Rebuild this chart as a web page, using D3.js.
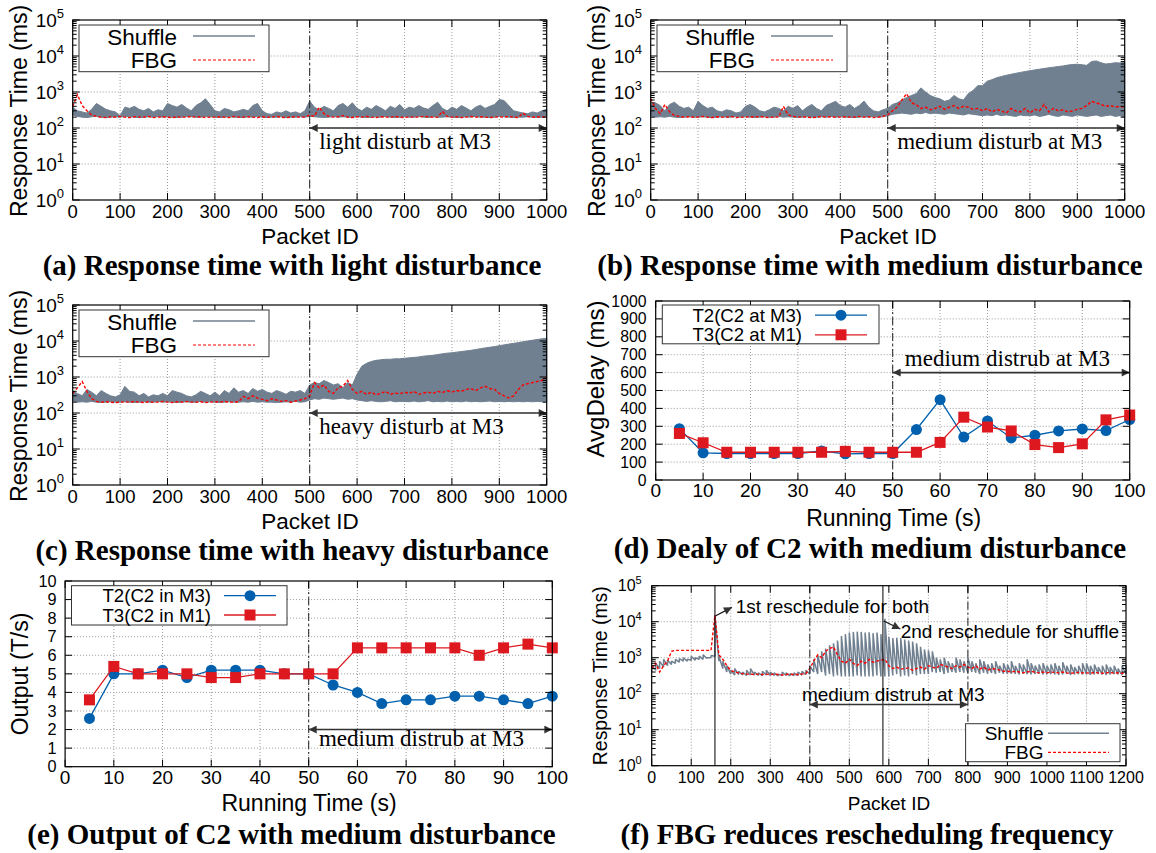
<!DOCTYPE html>
<html><head><meta charset="utf-8">
<script src="https://cdn.jsdelivr.net/npm/d3@7"></script>
<style>body{margin:0;background:#fff}svg{display:block}</style>
</head><body>
<svg id="c" width="1156" height="853"></svg>
<script>
// ---------------- DATA ----------------
const pkt1000 = d3.range(0, 1001, 10);
const pkt1200 = d3.range(0, 1201, 10);
const pktTicks = [0,100,200,300,400,500,600,700,800,900,1000];
const pktTicksF = [0,100,200,300,400,500,600,700,800,900,1000,1100,1200];
const logExps = [0,1,2,3,4,5];
const timeTicks = [0,10,20,30,40,50,60,70,80,90,100];
const delayTicks = [0,100,200,300,400,500,600,700,800,900,1000];
const outputTicks = [0,1,2,3,4,5,6,7,8,9,10];
const runTime = [5,10,15,20,25,30,35,40,45,50,55,60,65,70,75,80,85,90,95,100];

// (a) light disturbance
const aShufHi = [380,300,280,260,330,480,400,330,300,280,
 220,380,350,400,330,300,350,280,320,300,
 480,420,380,450,360,300,420,500,650,450,
 300,280,350,320,280,300,330,300,420,480,
 300,250,240,280,260,300,260,280,250,300,
 560,380,320,400,350,300,420,480,380,500,
 350,300,380,330,420,360,300,400,350,450,
 320,380,350,420,360,330,420,520,350,300,
 380,330,420,360,300,380,430,350,400,450,
 620,580,420,300,280,260,250,280,260,300,
 330];
const aShufLo = [230,210,200,195,205,210,200,195,200,205,
 200,210,205,200,195,200,205,200,210,200,
 205,200,195,200,210,205,200,200,210,205,
 200,195,200,205,200,200,195,205,200,210,
 200,195,200,200,205,195,200,200,205,200,
 210,205,200,195,200,210,200,205,200,200,
 205,200,195,200,205,200,210,200,195,200,
 205,200,200,210,200,195,205,200,200,205,
 200,195,200,205,200,210,200,200,195,200,
 210,205,200,195,200,200,205,200,195,200,
 205];
const aFbg = [400,850,420,300,230,210,200,195,205,200,
 210,200,195,205,200,200,210,195,200,205,
 200,195,205,200,200,210,200,205,195,200,
 200,205,200,195,210,200,200,205,200,195,
 205,200,200,210,200,195,200,205,200,200,
 230,210,380,250,210,200,205,220,200,195,
 205,200,210,200,195,205,200,200,210,200,
 195,205,200,200,210,205,200,200,290,210,
 200,205,195,200,210,200,205,200,195,200,
 205,200,210,200,195,260,210,200,205,200,
 210];

// (b) medium disturbance
const bShufHi = [450,500,420,300,450,520,400,350,380,300,
 550,420,350,380,300,280,320,300,260,280,
 400,450,380,300,280,320,380,350,300,400,
 350,420,300,380,450,350,300,420,480,550,
 420,380,450,350,420,560,380,300,280,320,
 350,450,500,600,700,800,900,1300,1000,800,
 700,650,550,600,800,650,600,900,1100,1500,
 1500,2000,2200,2500,2700,2900,3100,3300,3500,3700,
 3900,4100,4300,4500,4700,4900,5100,5300,5600,5800,
 5900,5700,5500,7000,7300,6500,6000,6200,6500,6400,
 6600];
const bShufLo = [220,200,205,200,210,200,195,200,205,200,
 200,205,200,195,200,205,200,200,210,200,
 205,200,195,200,205,200,200,210,200,205,
 200,195,200,205,200,200,205,200,210,200,
 205,200,200,195,200,205,200,210,200,205,
 220,240,250,260,250,240,260,250,270,250,
 260,250,240,260,250,240,230,250,240,230,
 220,230,220,240,220,230,220,210,230,220,
 220,230,210,220,240,220,210,230,220,210,
 230,220,210,220,230,210,220,230,210,220,
 200];
const bFbg = [650,350,250,450,280,220,210,200,205,200,
 200,210,200,195,205,200,200,210,195,200,
 200,205,200,210,200,195,205,200,400,230,
 210,200,205,200,195,200,210,200,205,200,
 200,205,200,200,210,200,205,195,200,210,
 230,300,380,600,900,500,450,350,380,320,
 350,400,330,380,420,350,400,380,330,350,
 300,350,280,330,300,260,350,300,280,350,
 260,330,300,450,280,350,300,320,280,300,
 330,350,420,550,500,450,400,420,380,400,
 380];

// (c) heavy disturbance
const cShufHi = [400,350,300,450,380,300,420,350,300,280,
 320,550,400,380,300,350,280,320,300,350,
 300,420,380,350,300,280,320,400,350,300,
 380,300,420,350,500,380,420,350,480,400,
 450,380,350,420,380,330,400,380,420,350,
 600,700,650,800,700,600,650,500,700,600,
 1200,2000,2400,2700,2900,3000,3100,3100,3200,3200,
 3300,3400,3500,3600,3800,3900,4000,4200,4400,4600,
 4700,4900,5100,5300,5500,5800,6100,6400,6700,7000,
 7400,7800,8200,8600,9000,9500,10000,10500,11000,11500,
 11900];
const cShufLo = [220,200,205,200,210,200,195,200,205,200,
 200,205,200,195,200,205,200,200,210,200,
 205,200,195,200,205,200,200,210,200,205,
 200,195,200,205,200,200,205,200,210,200,
 205,200,200,195,200,205,200,210,200,205,
 230,250,240,260,250,240,250,260,240,250,
 230,220,210,220,210,205,210,220,205,210,
 210,205,215,205,210,220,205,210,205,215,
 205,210,205,215,205,210,205,210,215,205,
 210,205,210,205,210,205,210,205,210,205,
 205];
const cFbg = [350,500,750,400,250,210,200,205,200,195,
 200,205,200,210,200,195,205,200,200,210,
 200,195,205,200,210,200,200,205,195,200,
 205,200,210,200,200,205,290,250,300,260,
 240,220,250,230,210,220,200,215,230,250,
 300,700,500,600,400,350,500,550,800,450,
 350,400,330,380,320,350,400,330,360,340,
 380,350,400,330,360,380,350,400,370,420,
 380,420,400,450,480,420,500,550,480,450,
 350,300,260,300,450,600,650,700,750,800,
 1000];

// (d) average delay
const dT2 = [287,152,148,148,148,148,162,146,148,148,282,449,240,330,235,250,274,285,276,338];
const dT3 = [260,208,155,155,155,155,155,160,155,155,155,210,351,296,274,198,181,202,336,363];

// (e) output
const eT2 = [2.6,5.0,5.0,5.2,4.8,5.2,5.2,5.2,5.0,5.0,4.4,4.0,3.4,3.6,3.6,3.8,3.8,3.6,3.4,3.8];
const eT3 = [3.6,5.4,5.0,5.0,5.0,4.8,4.8,5.0,5.0,5.0,5.0,6.4,6.4,6.4,6.4,6.4,6.0,6.4,6.6,6.4];

// (f) rescheduling
const fShufHi = [600,700,800,900,850,800,900,950,1000,900,
 1100,1000,1100,1200,1000,1150,15000,1100,800,600,
 450,500,420,400,450,500,400,380,420,450,
 400,380,350,400,380,360,380,400,420,450,
 600,900,1200,1500,1800,2200,2500,3000,4000,4500,
 5000,5200,5300,5200,5000,5100,4800,5000,4500,12000,
 3800,3500,3600,3500,3200,3000,2800,2500,2000,1700,
 1600,1500,1000,900,1000,800,700,1000,900,800,
 1000,800,700,900,800,650,700,800,600,700,
 650,800,600,700,650,900,700,600,650,700,
 600,650,700,600,750,600,650,550,600,700,
 700,600,650,550,600,650,550,600,500,600,
 650];
const fShufLo = [400,450,500,550,600,650,700,750,800,800,
 850,850,900,900,950,1000,1100,800,500,400,
 350,330,340,330,320,330,330,320,320,330,
 320,320,310,320,320,310,320,320,330,340,
 350,400,350,400,320,350,300,320,300,300,
 300,300,320,300,300,300,300,320,300,300,
 300,320,350,300,320,300,350,320,350,350,
 350,400,380,400,350,380,400,380,400,380,
 380,400,380,350,380,360,380,350,380,360,
 350,360,350,340,360,350,340,350,360,340,
 340,350,340,330,340,350,330,340,350,340,
 340,330,340,350,340,330,340,350,340,330,
 350];
const fFbg = [500,700,400,600,800,1500,1600,1600,1600,1600,
 1600,1600,1600,1600,1600,1600,15000,1200,900,600,
 450,400,380,360,350,350,340,350,340,350,
 340,350,340,330,340,350,340,340,350,360,
 500,800,1200,1000,1500,1800,2000,1200,800,700,
 900,700,600,800,700,900,750,800,850,900,
 600,500,550,480,500,520,450,500,550,480,
 600,550,500,650,600,550,500,600,550,650,
 550,500,600,480,550,450,500,480,450,420,
 420,400,420,400,380,400,420,390,380,400,
 380,400,390,380,400,380,370,380,390,380,
 380,370,390,380,370,380,390,370,380,370,
 380];
const fReschedule = [160, 585];
const fDisturb = [400, 800];

// ---------------- DRAWING ----------------
const svg = d3.select('#c');
const SANS = "'Liberation Sans', Arial, Helvetica, sans-serif";
const SERIF = "'Liberation Serif', 'Times New Roman', serif";
const C_SHUF = '#708090', C_FBG = '#ff0000', C_T2 = '#0060ad', C_T3 = '#dd181f';

const defs = svg.append('defs');
defs.append('marker').attr('id','ah').attr('viewBox','0 0 10 10').attr('refX',10).attr('refY',5)
  .attr('markerWidth',10).attr('markerHeight',8).attr('markerUnits','userSpaceOnUse')
  .attr('orient','auto-start-reverse')
  .append('path').attr('d','M0,0 L10,5 L0,10 z').attr('fill','#333');

const minorLog = [];
[0,1,2,3,4].forEach(e => [2,3,4,5,6,7,8,9].forEach(m => minorLog.push(m*Math.pow(10,e))));

function grid(g, x, y, xt, yt) {
  const [x0,x1] = x.range(); const [y1,y0] = y.range();
  const gg = g.append('g').attr('stroke','#9a9a9a').attr('stroke-width',1).attr('stroke-dasharray','1,2');
  xt.forEach(v => { const p = x(v); if (p > x0+1 && p < x1-1) gg.append('line').attr('x1',p).attr('x2',p).attr('y1',y0).attr('y2',y1); });
  yt.forEach(v => { const p = y(v); if (p > y0+1 && p < y1-1) gg.append('line').attr('x1',x0).attr('x2',x1).attr('y1',p).attr('y2',p); });
}
function frame(g, x, y, xt, yt, minor) {
  const [x0,x1] = x.range(); const [y1,y0] = y.range();
  const t = g.append('g').attr('stroke','#000').attr('stroke-width',1);
  xt.forEach(v => { const p = x(v);
    t.append('line').attr('x1',p).attr('x2',p).attr('y1',y1).attr('y2',y1-7);
    t.append('line').attr('x1',p).attr('x2',p).attr('y1',y0).attr('y2',y0+7); });
  yt.forEach(v => { const p = y(v);
    t.append('line').attr('x1',x0).attr('x2',x0+7).attr('y1',p).attr('y2',p);
    t.append('line').attr('x1',x1).attr('x2',x1-7).attr('y1',p).attr('y2',p); });
  if (minor) minor.forEach(v => { const p = y(v);
    t.append('line').attr('x1',x0).attr('x2',x0+4).attr('y1',p).attr('y2',p);
    t.append('line').attr('x1',x1).attr('x2',x1-4).attr('y1',p).attr('y2',p); });
  g.append('rect').attr('x',x0).attr('y',y0).attr('width',x1-x0).attr('height',y1-y0)
    .attr('fill','none').attr('stroke','#000').attr('stroke-width',1.2);
}
function xLabels(g, x, yBase, ticks, fs) {
  ticks.forEach(v => g.append('text').attr('x',x(v)).attr('y',yBase).attr('text-anchor','middle')
    .attr('font-family',SANS).attr('font-size',fs).text(v));
}
function yLabels(g, y, xr, ticks, fs) {
  ticks.forEach(v => g.append('text').attr('x',xr).attr('y',y(v)+fs*0.35).attr('text-anchor','end')
    .attr('font-family',SANS).attr('font-size',fs).text(v));
}
function logLabels(g, y, xr, fs, fsSup) {
  logExps.forEach(e => {
    const t = g.append('text').attr('x',xr).attr('y',y(Math.pow(10,e))+fs*0.36).attr('text-anchor','end')
      .attr('font-family',SANS).attr('font-size',fs);
    t.append('tspan').text('10');
    t.append('tspan').attr('dy',-fs*0.44).attr('font-size',fsSup).text(e);
  });
}
function text(g, x, y, s, fs, fam, anchor, weight) {
  return g.append('text').attr('x',x).attr('y',y).attr('font-family',fam).attr('font-size',fs)
    .attr('text-anchor',anchor||'middle').attr('font-weight',weight||'normal').text(s);
}
function vtext(g, x, y, s, fs) {
  return g.append('text').attr('transform',`translate(${x},${y}) rotate(-90)`).attr('text-anchor','middle')
    .attr('font-family',SANS).attr('font-size',fs).text(s);
}
function band(g, x, y, xs, lo, hi, color) {
  const area = d3.area().x((d,i)=>x(xs[i])).y0((d,i)=>y(lo[i])).y1((d,i)=>y(hi[i]));
  g.append('path').datum(hi).attr('d',area).attr('fill',color).attr('stroke',color)
    .attr('stroke-width',1).attr('stroke-linejoin','miter');
}
function zigzag(g, x, y, xs, lo, hi, color) {
  const pts = [];
  xs.forEach((p,i) => { pts.push([p, lo[i]]); pts.push([p, hi[i]]); });
  g.append('path').datum(pts).attr('d', d3.line().x(d=>x(d[0])).y(d=>y(d[1])))
    .attr('fill','none').attr('stroke',color).attr('stroke-width',1.5).attr('stroke-linejoin','bevel');
}
function dashLine(g, x, y, xs, vals, color, w) {
  const line = d3.line().x((d,i)=>x(xs[i])).y(d=>y(d));
  g.append('path').datum(vals).attr('d',line).attr('fill','none').attr('stroke',color)
    .attr('stroke-width',w||1.2).attr('stroke-dasharray','3,2');
}
function vmark(g, x, y, v, dashed) {
  const [y1,y0] = y.range();
  g.append('line').attr('x1',x(v)).attr('x2',x(v)).attr('y1',y0).attr('y2',y1)
    .attr('stroke', dashed ? '#222' : '#000').attr('stroke-width',1)
    .attr('stroke-dasharray', dashed ? '8,3,2,3' : null);
}
function arrow2(g, xa, xb, yy) {
  g.append('line').attr('x1',xa).attr('x2',xb).attr('y1',yy).attr('y2',yy)
    .attr('stroke','#333').attr('stroke-width',1.6)
    .attr('marker-start','url(#ah)').attr('marker-end','url(#ah)');
}
function arrow1(g, xa, ya, xb, yb) {
  g.append('line').attr('x1',xa).attr('x2',xb).attr('y1',ya).attr('y2',yb)
    .attr('stroke','#111').attr('stroke-width',1.2).attr('marker-end','url(#ah)');
}

// ---- panels a, b, c ----
function tsPanel(ox, oy, shufHi, shufLo, fbg, note, title) {
  const g = svg.append('g').attr('transform',`translate(${ox},${oy})`);
  const x = d3.scaleLinear().domain([0,1000]).range([72.7,546.7]);
  const y = d3.scaleLog().domain([1,1e5]).range([200,20]);
  grid(g, x, y, pktTicks, logExps.map(e=>Math.pow(10,e)));
  band(g, x, y, pkt1000, shufLo, shufHi, C_SHUF);
  dashLine(g, x, y, pkt1000, fbg, C_FBG, 1.4);
  vmark(g, x, y, 500, true);
  arrow2(g, x(500), x(1000), y(100));
  text(g, x(520), 149, note, 23, SERIF, 'start');
  frame(g, x, y, pktTicks, logExps.map(e=>Math.pow(10,e)), minorLog);
  xLabels(g, x, 218, pktTicks, 18.5);
  logLabels(g, y, 64, 19, 13);
  vtext(g, 27, 111, 'Response Time (ms)', 23);
  text(g, 310, 243.5, 'Packet ID', 22.5, SANS);
  // legend
  g.append('rect').attr('x',79).attr('y',25).attr('width',190).attr('height',46.7)
    .attr('fill','#fff').attr('stroke','#333').attr('stroke-width',1);
  text(g, 177, 44.5, 'Shuffle', 22.5, SANS, 'end');
  text(g, 177, 68, 'FBG', 22.5, SANS, 'end');
  g.append('line').attr('x1',193).attr('x2',255).attr('y1',36).attr('y2',36).attr('stroke',C_SHUF).attr('stroke-width',1.5);
  g.append('line').attr('x1',193).attr('x2',255).attr('y1',60).attr('y2',60).attr('stroke',C_FBG)
    .attr('stroke-width',1.2).attr('stroke-dasharray','3,2');
  text(g, 292, 274.5, title, 29, SERIF, 'middle', 'bold');
}
tsPanel(0, 0, aShufHi, aShufLo, aFbg, 'light disturb at M3', '(a) Response time with light disturbance');
tsPanel(578, 0, bShufHi, bShufLo, bFbg, 'medium disturb at M3', '(b) Response time with medium disturbance');
tsPanel(0, 285, cShufHi, cShufLo, cFbg, 'heavy disturb at M3', '(c) Response time with heavy disturbance');

// ---- line panels d, e ----
function linePanel(o) {
  const g = svg.append('g');
  const x = d3.scaleLinear().domain([0,100]).range([o.x0,o.x1]);
  const y = d3.scaleLinear().domain(o.yDomain).range([o.y1,o.y0]);
  grid(g, x, y, timeTicks, o.yTicks);
  vmark(g, x, y, 50, true);
  arrow2(g, x(50), x(100), y(o.arrowY));
  text(g, x(o.noteX), o.noteY, 'medium distrub at M3', 23, SERIF, o.noteAnchor);
  const line = d3.line().x((d,i)=>x(runTime[i])).y(d=>y(d));
  g.append('path').datum(o.t2).attr('d',line).attr('fill','none').attr('stroke',C_T2).attr('stroke-width',1.3);
  g.selectAll(null).data(o.t2).enter().append('circle').attr('cx',(d,i)=>x(runTime[i])).attr('cy',d=>y(d)).attr('r',5.5).attr('fill',C_T2);
  g.append('path').datum(o.t3).attr('d',line).attr('fill','none').attr('stroke',C_T3).attr('stroke-width',1.3);
  g.selectAll(null).data(o.t3).enter().append('rect').attr('x',(d,i)=>x(runTime[i])-5.5).attr('y',d=>y(d)-5.5)
    .attr('width',11).attr('height',11).attr('fill',C_T3);
  frame(g, x, y, timeTicks, o.yTicks, null);
  xLabels(g, x, o.y1+17, timeTicks, 19);
  yLabels(g, y, o.x0-o.yTickGap, o.yTicks, o.yTickFs);
  vtext(g, o.yLabX, o.yLabY, o.yLab, o.yLabFs);
  text(g, o.xLabX, o.xLabY, 'Running Time (s)', 23, SANS);
  const L = o.legend;
  g.append('rect').attr('x',L.x).attr('y',L.y).attr('width',L.w).attr('height',L.h)
    .attr('fill','#fff').attr('stroke','#333').attr('stroke-width',1);
  text(g, L.tx, L.l1+6.5, o.names[0], 18.6, SANS, 'end');
  text(g, L.tx, L.l2+6.5, o.names[1], 18.6, SANS, 'end');
  g.append('line').attr('x1',L.s0).attr('x2',L.s1).attr('y1',L.l1).attr('y2',L.l1).attr('stroke',C_T2).attr('stroke-width',1.3);
  g.append('circle').attr('cx',(L.s0+L.s1)/2).attr('cy',L.l1).attr('r',5.5).attr('fill',C_T2);
  g.append('line').attr('x1',L.s0).attr('x2',L.s1).attr('y1',L.l2).attr('y2',L.l2).attr('stroke',C_T3).attr('stroke-width',1.3);
  g.append('rect').attr('x',(L.s0+L.s1)/2-5.5).attr('y',L.l2-5.5).attr('width',11).attr('height',11).attr('fill',C_T3);
  text(g, o.titleX, o.titleY, o.title, 29, SERIF, 'middle', 'bold');
}
linePanel({x0:655.7, x1:1129.7, y0:301, y1:480, yDomain:[0,1000], yTicks:delayTicks, t2:dT2, t3:dT3,
  arrowY:600, noteX:74.2, noteY:366, noteAnchor:'middle', yTickFs:15.8, yTickGap:9.2,
  yLab:'AvgDelay (ms)', yLabFs:24, yLabX:604, yLabY:379, xLabX:893.7, xLabY:525.5,
  names:['T2(C2 at M3)','T3(C2 at M1)'],
  legend:{x:662.3, y:305, w:216.7, h:38.8, tx:802, l1:315.2, l2:334.8, s0:815, s1:867},
  title:'(d) Dealy of C2 with medium disturbance', titleX:870, titleY:558});
linePanel({x0:65.1, x1:552.3, y0:581, y1:766.7, yDomain:[0,10], yTicks:outputTicks, t2:eT2, t3:eT3,
  arrowY:2, noteX:52.1, noteY:746, noteAnchor:'start', yTickFs:16.3, yTickGap:8.5,
  yLab:'Output (T/s)', yLabFs:23, yLabX:27.8, yLabY:674, xLabX:309, xLabY:810.5,
  names:['T2(C2 in M3)','T3(C2 in M1)'],
  legend:{x:71.5, y:585.7, w:215.5, h:39.3, tx:211, l1:595.7, l2:615, s0:224, s1:276},
  title:'(e) Output of C2 with medium disturbance', titleX:291.5, titleY:844});

// ---- panel f ----
(function(){
  const g = svg.append('g');
  const x = d3.scaleLinear().domain([0,1200]).range([651.7,1126]);
  const y = d3.scaleLog().domain([1,1e5]).range([765.7,585.7]);
  const yt = logExps.map(e=>Math.pow(10,e));
  grid(g, x, y, pktTicksF, yt);
  zigzag(g, x, y, pkt1200, fShufLo, fShufHi, C_SHUF);
  dashLine(g, x, y, pkt1200, fFbg, C_FBG, 1.4);
  fDisturb.forEach(v => vmark(g, x, y, v, true));
  fReschedule.forEach(v => vmark(g, x, y, v, false));
  arrow2(g, x(fDisturb[0]), x(fDisturb[1]), y(50));
  text(g, x(380), 701, 'medium distrub at M3', 19, SANS, 'start');
  text(g, 735.7, 613, '1st reschedule for both', 19, SANS, 'start');
  text(g, 900.7, 638, '2nd reschedule for shuffle', 19, SANS, 'start');
  arrow1(g, x(162), y(14700), x(203), y(25000));
  arrow1(g, x(587), y(10500), x(629), y(6300));
  frame(g, x, y, pktTicksF, yt, minorLog);
  xLabels(g, x, 783.3, pktTicksF, 16);
  logLabels(g, y, 641.7, 16, 11);
  vtext(g, 607, 675.7, 'Response Time (ms)', 19.4);
  text(g, 889, 810, 'Packet ID', 19, SANS);
  g.append('rect').attr('x',965.6).attr('y',723.7).attr('width',154.4).attr('height',38)
    .attr('fill','#fff').attr('stroke','#333').attr('stroke-width',1);
  text(g, 1043.5, 740, 'Shuffle', 19, SANS, 'end');
  text(g, 1043.5, 759, 'FBG', 19, SANS, 'end');
  g.append('line').attr('x1',1048).attr('x2',1109).attr('y1',733.3).attr('y2',733.3).attr('stroke',C_SHUF).attr('stroke-width',1.5);
  g.append('line').attr('x1',1048).attr('x2',1109).attr('y1',752.3).attr('y2',752.3).attr('stroke',C_FBG)
    .attr('stroke-width',1.2).attr('stroke-dasharray','3,2');
  text(g, 867, 844, '(f) FBG reduces rescheduling frequency', 29, SERIF, 'middle', 'bold');
})();
</script>
</body></html>
